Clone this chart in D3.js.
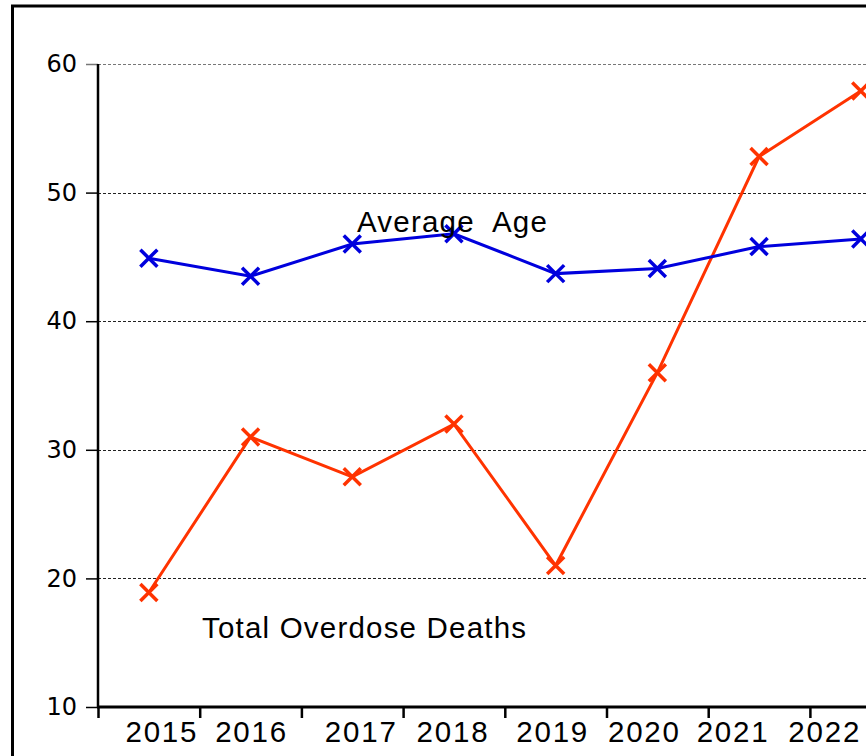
<!DOCTYPE html>
<html>
<head>
<meta charset="utf-8">
<script src="https://cdn.jsdelivr.net/npm/d3@7"></script>
<style>
  html, body { margin: 0; padding: 0; background: #fff; overflow: hidden; }
  svg { display: block; }
</style>
</head>
<body>
<div id="chart"></div>
<script>
// data
var years = ["2015", "2016", "2017", "2018", "2019", "2020", "2021", "2022"]
var averageAge = [44.9, 43.5, 46.0, 46.8, 43.7, 44.1, 45.8, 46.4]
var overdoseDeaths = [18.9, 31.0, 27.9, 32.0, 21.0, 36.0, 52.8, 57.9]
var yTicks = [10, 20, 30, 40, 50, 60]

// year labels are not centred under their points in the original
var labelNudge = [13, 1, 9, -1, -3, -13, -26, -36]

var W = 866, H = 756
var left = 98, step = 101.7

var svg = d3.select("#chart")
  .append("svg")
  .attr("width", W)
  .attr("height", H)

// outer frame (runs off the right and bottom edge)
svg.append("rect")
  .attr("x", 12.5).attr("y", 6)
  .attr("width", 1000).attr("height", 1000)
  .attr("fill", "none")
  .attr("stroke", "#000")
  .attr("stroke-width", 3)

var x = d3.scaleBand().domain(years).range([left, left + step * years.length])
var xi = d3.scaleLinear().domain([0, years.length]).range([left, left + step * years.length])
var y = d3.scaleLinear().domain([10, 60]).range([707, 64])

// grid
svg.append("g")
  .selectAll("line")
  .data(yTicks.slice(1))
  .join("line")
  .attr("x1", left).attr("x2", W)
  .attr("y1", d => Math.round(y(d)) + 0.5)
  .attr("y2", d => Math.round(y(d)) + 0.5)
  .attr("stroke", d => d == 60 ? "#777" : "#222")
  .attr("stroke-width", 1)
  .attr("stroke-dasharray", "3,2")

// y axis
var yAxis = svg.append("g")
  .attr("transform", "translate(" + left + ",0)")
  .call(d3.axisLeft(y).tickValues(yTicks).tickSize(12).tickPadding(9))
yAxis.select(".domain").remove()
yAxis.selectAll(".tick line").attr("stroke", (d) => d == 60 ? "#777" : "#000").attr("stroke-width", 1.5)
yAxis.selectAll("text")
  .attr("font-family", "DejaVu Sans, sans-serif")
  .attr("font-size", 24)
  .attr("fill", "#000")
svg.append("line")
  .attr("x1", left).attr("x2", left)
  .attr("y1", y(60)).attr("y2", y(10))
  .attr("stroke", "#000").attr("stroke-width", 2.5)

// x axis: ticks sit on the band edges
var xAxis = svg.append("g")
  .attr("transform", "translate(0," + y(10) + ")")
  .call(d3.axisBottom(xi).tickValues(d3.range(0, years.length + 1)).tickSize(11).tickFormat(""))
xAxis.select(".domain").remove()
xAxis.selectAll(".tick line").attr("stroke", "#000").attr("stroke-width", 2.5)
svg.append("line")
  .attr("x1", left - 1).attr("x2", W + 10)
  .attr("y1", y(10)).attr("y2", y(10))
  .attr("stroke", "#000").attr("stroke-width", 3)

svg.append("g")
  .selectAll("text")
  .data(years)
  .join("text")
  .attr("x", (d, i) => x(d) + x.bandwidth() / 2 + labelNudge[i])
  .attr("y", 742)
  .attr("text-anchor", "middle")
  .attr("font-family", "Liberation Sans, Arial, sans-serif")
  .attr("font-size", 29.5)
  .attr("letter-spacing", 1.8)
  .text(d => d)

var line = d3.line()
  .x((d, i) => x(years[i]) + x.bandwidth() / 2)
  .y(d => y(d))

function series(values, colour) {
  var g = svg.append("g")
  g.append("path")
    .attr("d", line(values))
    .attr("fill", "none")
    .attr("stroke", colour)
    .attr("stroke-width", 3)
  var r = 8.5
  g.selectAll("path.mark")
    .data(values)
    .join("path")
    .attr("class", "mark")
    .attr("d", (d, i) => {
      var cx = x(years[i]) + x.bandwidth() / 2, cy = y(d)
      return "M" + (cx - r) + "," + (cy - r) + "L" + (cx + r) + "," + (cy + r) +
             "M" + (cx - r) + "," + (cy + r) + "L" + (cx + r) + "," + (cy - r)
    })
    .attr("stroke", colour)
    .attr("stroke-width", 3.5)
}

series(overdoseDeaths, "#ff3300")
series(averageAge, "#0000dd")

// series labels
var labelFont = { family: "Liberation Sans, Arial, sans-serif", size: 29.5, spacing: 1.2 }

svg.append("text")
  .attr("x", 357).attr("y", 232)
  .attr("font-family", labelFont.family)
  .attr("font-size", labelFont.size)
  .attr("letter-spacing", labelFont.spacing)
  .style("white-space", "pre")
  .text("Average  Age")

svg.append("text")
  .attr("x", 202).attr("y", 638)
  .attr("font-family", labelFont.family)
  .attr("font-size", labelFont.size)
  .attr("letter-spacing", labelFont.spacing)
  .text("Total Overdose Deaths")
</script>
</body>
</html>
